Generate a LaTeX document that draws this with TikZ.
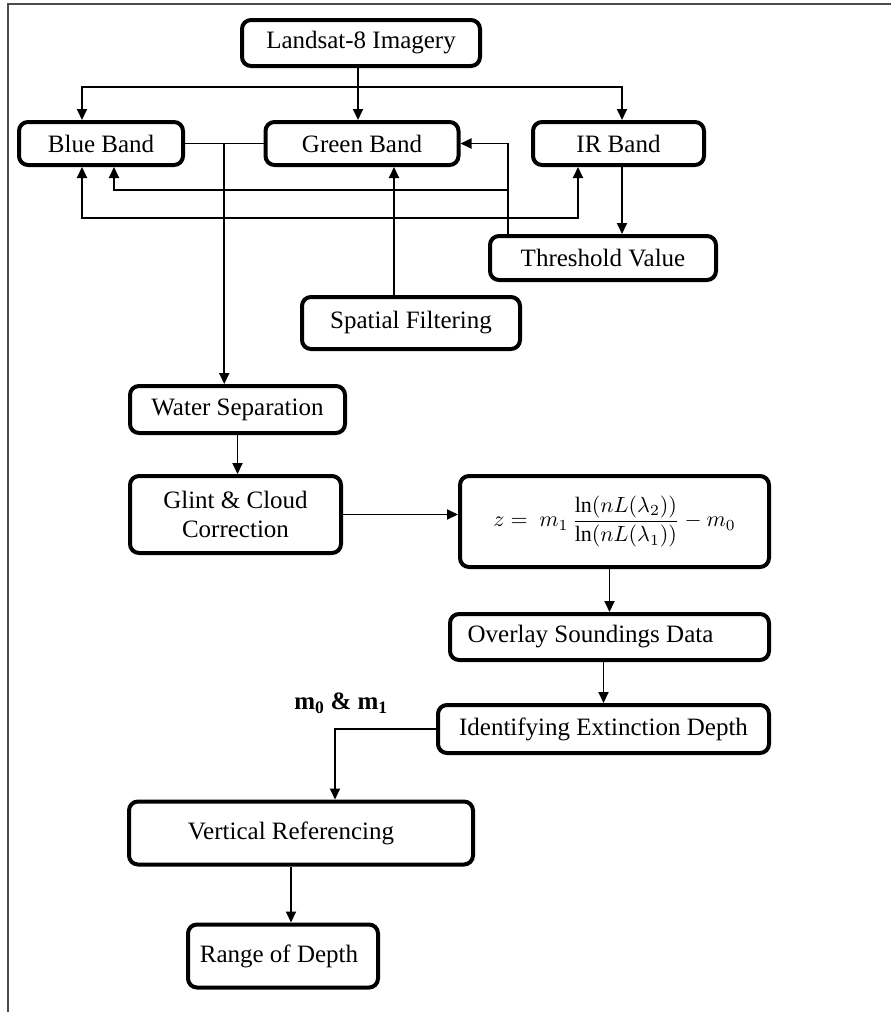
\documentclass[tikz,border=0pt]{standalone}
\usepackage{fontspec}
\setmainfont{Liberation Serif}
\usetikzlibrary{arrows.meta,calc}
\tikzset{
  box/.style={draw, line width=4pt, rounded corners=9pt, inner sep=0pt, align=center,
              font=\fontsize{25}{29}\selectfont},
  conn/.style={line width=1.9pt},
  arr/.style={conn, -{Triangle[length=11pt,width=10pt]}},
  arrboth/.style={conn, {Triangle[length=11pt,width=10pt]}-{Triangle[length=11pt,width=10pt]}},
}
\begin{document}
\begin{tikzpicture}[x=1pt,y=-1pt]
\useasboundingbox (0,0) rectangle (891,1012);
% frame
\draw[black!70, line width=1.3pt] (8,1012) -- (8,4) -- (891,4);

% nodes
\node[box, minimum width=238pt, minimum height=46pt] (land) at (361,43) {Landsat-8 Imagery};
\node[box, minimum width=164pt, minimum height=43pt] (blue) at (101,143.5) {Blue Band};
\node[box, minimum width=193pt, minimum height=43pt] (green) at (362,143.5) {Green Band};
\node[box, minimum width=171pt, minimum height=43pt] (ir) at (618.5,143.5) {IR Band};
\node[box, minimum width=226pt, minimum height=44pt] (thr) at (603,258) {Threshold Value};
\node[box, minimum width=218pt, minimum height=52pt] (spat) at (411,323) {Spatial Filtering};
\node[box, minimum width=215pt, minimum height=47pt] (water) at (237.5,409.5) {Water Separation};
\node[box, minimum width=211pt, minimum height=77pt] (glint) at (235.5,514.5) {Glint \& Cloud\\Correction};
\node[box, minimum width=309pt, minimum height=91pt] (form) at (614.5,521.5)
  {\normalsize\scalebox{2.2}{$\displaystyle z=\ m_1\,\frac{\ln(nL(\lambda_2))}{\ln(nL(\lambda_1))}-m_0$}};
\node[box, minimum width=319pt, minimum height=46pt] (over) at (609.5,637) {Overlay Soundings Data\hspace*{38pt}};
\node[box, minimum width=331pt, minimum height=48pt] (ident) at (603.5,729) {Identifying Extinction Depth};
\node[box, minimum width=344pt, minimum height=63pt] (vref) at (301,833) {Vertical Referencing\hspace*{20pt}};
\node[box, minimum width=190pt, minimum height=63pt] (range) at (283,956) {Range of Depth\hspace*{8pt}};
\node[font=\fontsize{25}{29}\selectfont\bfseries] (mlab) at (341,703) {m\textsubscript{0} \& m\textsubscript{1}};

% helper coordinates
\coordinate (split) at (358,87);
\coordinate (bin) at ([xshift=-19pt]blue.north);
\coordinate (iin) at ([xshift=3.5pt]ir.north);
\coordinate (bmid) at ($(blue.east)!0.5!(green.west)$);
\coordinate (bsa) at ([xshift=-19pt]blue.south);
\coordinate (bsb) at ([xshift=13pt]blue.south);
\coordinate (isa) at ([xshift=-40.5pt]ir.south);
\coordinate (isb) at ([xshift=3.5pt]ir.south);
\coordinate (tup) at ([xshift=-95pt]thr.north);
\coordinate (sup1) at ([xshift=-17pt]spat.north);
\coordinate (vin) at ([xshift=34pt]vref.north);
\coordinate (vout) at ([xshift=-10pt]vref.south);

% connectors
\draw[arr] (land.south -| split) -- (split) -- (split |- green.north);
\draw[arr] (split) -| (bin);
\draw[arr] (split) -| (iin);
\draw[conn] (blue.east) -- (green.west);
\draw[arr] (bmid) -- (bmid |- water.north);
\draw[arrboth] (bsa) |- (0,218 -| isa) -- (isa);
\draw[arr] (tup) |- (green.east);
\draw[arr] (tup |- 0,190) -| (bsb);
\draw[arr] (isb) -- (isb |- thr.north);
\draw[arr] (sup1) -- (sup1 |- green.south);
\draw[arr] (water.south) -- (water.south |- glint.north);
\draw[arr] (glint.east) -- (glint.east -| form.west);
\draw[arr] (over.north |- form.south) -- (over.north);
\draw[arr] (over.south -| ident.north) -- (ident.north);
\draw[arr] (ident.west) -| (vin);
\draw[arr] (vout) -- (vout |- range.north);
\end{tikzpicture}
\end{document}
